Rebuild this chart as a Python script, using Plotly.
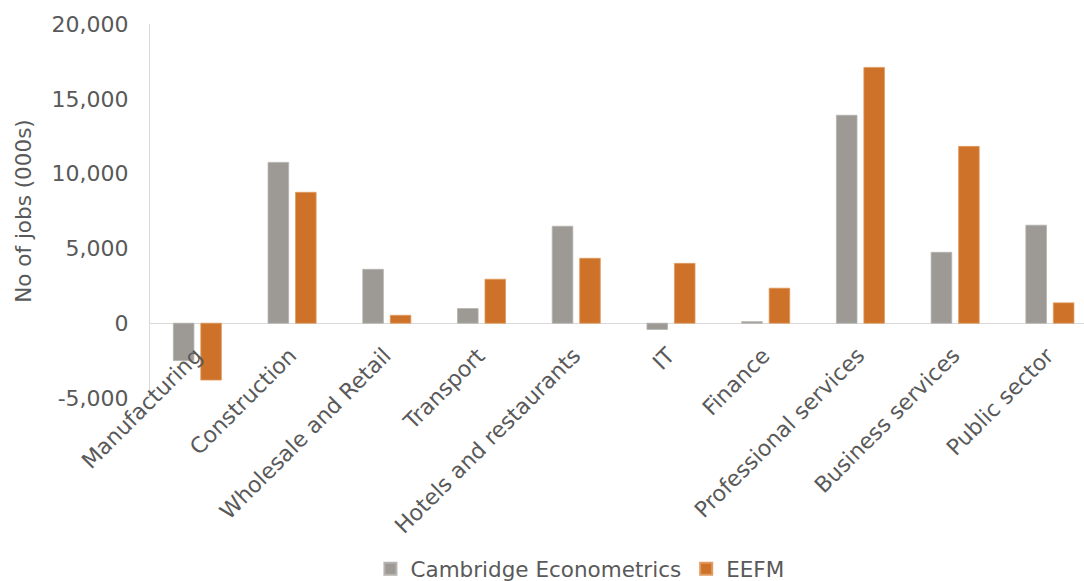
import plotly.graph_objects as go

categories = ["Manufacturing", "Construction", "Wholesale and Retail", "Transport",
              "Hotels and restaurants", "IT", "Finance", "Professional services",
              "Business services", "Public sector"]
cambridge = [-2500, 10750, 3600, 980, 6480, -420, 100, 13900, 4740, 6550]
eefm = [-3800, 8750, 530, 2940, 4340, 4000, 2340, 17100, 11820, 1360]
y_ticks = [-5000, 0, 5000, 10000, 15000, 20000]
y_tick_text = ["-5,000", "0", "5,000", "10,000", "15,000", "20,000"]

GREY = "#9D9995"
ORANGE = "#CD7228"
TEXT = "#595959"
FONT = "DejaVu Sans"

x_idx = list(range(len(categories)))

fig = go.Figure()
fig.add_trace(go.Bar(x=x_idx, y=cambridge, name="Cambridge Econometrics",
                     marker=dict(color=GREY, line=dict(color="#B5B2AF", width=0.8))))
fig.add_trace(go.Bar(x=x_idx, y=eefm, name="EEFM",
                     marker=dict(color=ORANGE, line=dict(color="#E09A60", width=0.8))))

for i, c in enumerate(categories):
    fig.add_annotation(x=i, y=0, xref="x", yref="y", text=c, showarrow=False,
                       textangle=-45, xanchor="right", yanchor="top",
                       xshift=12, yshift=-17,
                       font=dict(family=FONT, size=22, color=TEXT))

fig.update_layout(
    width=1084, height=581,
    margin=dict(l=150, r=0, t=24, b=183, autoexpand=False),
    paper_bgcolor="white", plot_bgcolor="white",
    barmode="group", bargap=0.42, bargroupgap=0.25,
    font=dict(family=FONT, color=TEXT),
    showlegend=True,
    legend=dict(orientation="h", xref="container", yref="container",
                x=0.535, y=0.021, xanchor="center", yanchor="middle",
                font=dict(family=FONT, size=21.5, color=TEXT),
                itemsizing="constant"),
    xaxis=dict(range=[-0.5, 9.36], showticklabels=False, showgrid=False,
               zeroline=False, showline=False, ticks="", automargin=False),
    yaxis=dict(range=[-5000, 20000], tickvals=y_ticks, ticktext=y_tick_text,
               showgrid=False, zeroline=True, zerolinecolor="#D9D9D9", zerolinewidth=1,
               showline=True, linecolor="#D9D9D9", linewidth=1, ticks="",
               ticklabelstandoff=16, automargin=False,
               tickfont=dict(family=FONT, size=22, color=TEXT),
               title=dict(text="No of jobs (000s)", standoff=14,
                          font=dict(family=FONT, size=21.5, color=TEXT))),
)

fig.write_html("out.html", config={"displayModeBar": False},
               post_script="document.body.style.margin='0';")
